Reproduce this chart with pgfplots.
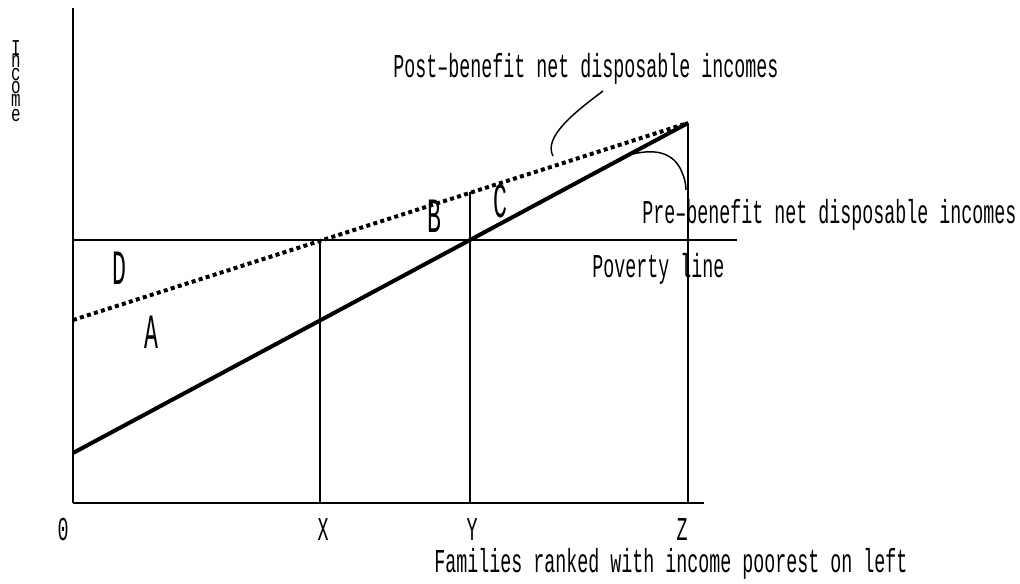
\documentclass[border=0pt]{standalone}
\usepackage{fontspec}
\setmainfont{Liberation Mono}[FakeStretch=0.55]
\newfontfamily\bigfont{Liberation Mono}[FakeStretch=0.47]
\newfontfamily\ylfont{Liberation Mono}[FakeStretch=0.7]
\usepackage{pgfplots}
\pgfplotsset{compat=1.18}
\newcommand\tf{\fontsize{25}{26}\selectfont}
\newcommand\lf{\bigfont\fontsize{37}{38}\selectfont}
\newcommand\yf{\ylfont\fontsize{17}{18}\selectfont}
\begin{document}
\begin{tikzpicture}
\begin{axis}[x=0.75pt, y=0.75pt, xmin=0, xmax=1020, ymin=0, ymax=583,
  y dir=reverse, hide axis, clip=false, scale only axis]
\coordinate (bl) at (axis cs:0,583);
\coordinate (tr) at (axis cs:1020,0);
% axes
\addplot[line width=1.3pt, black] coordinates {(73,8) (73,503)};
\addplot[line width=1.3pt, black] coordinates {(73,503) (704,503)};
% poverty line
\addplot[line width=1.3pt, black] coordinates {(73,240) (737,240)};
% verticals
\addplot[line width=1.3pt, black] coordinates {(320,503) (320,240)};
\addplot[line width=1.3pt, black] coordinates {(470,503) (470,192)};
\addplot[line width=1.3pt, black] coordinates {(688,503) (688,123)};
% pre-benefit
\addplot[line width=3pt, black] coordinates {(73,453) (688,123)};
% post-benefit
\addplot[line width=3pt, black, dash pattern=on 3pt off 2.5pt] coordinates {(73,320) (688,123)};
% leaders
\draw[line width=1.1pt] (axis cs:603,91) .. controls (axis cs:575,112) and (axis cs:543,137) .. (axis cs:553,156);
\draw[line width=1.1pt] (axis cs:622,157) .. controls (axis cs:650,148) and (axis cs:670,150) .. (axis cs:680,168) .. controls (axis cs:684,176) and (axis cs:686,183) .. (axis cs:686,190);
% texts
\node[anchor=base west, inner sep=0, font=\tf] at (axis cs:393,77) {Post–benefit net disposable incomes};
\node[anchor=base west, inner sep=0, font=\tf] at (axis cs:642,223) {Pre–benefit net disposable incomes};
\node[anchor=base west, inner sep=0, font=\tf] at (axis cs:592,277) {Poverty line};
\node[anchor=base, inner sep=0, font=\tf] at (axis cs:671,572) {Families ranked with income poorest on left};
\node[anchor=base west, inner sep=0, font=\lf] at (axis cs:112,284) {D};
\node[anchor=base west, inner sep=0, font=\lf] at (axis cs:144,348) {A};
\node[anchor=base west, inner sep=0, font=\lf] at (axis cs:427,232) {B};
\node[anchor=base west, inner sep=0, font=\lf] at (axis cs:493,217) {C};
% tick labels
\node[anchor=base, inner sep=0, font=\tf] at (axis cs:63,540) {0};
\node[anchor=base, inner sep=0, font=\tf] at (axis cs:323,540) {X};
\node[anchor=base, inner sep=0, font=\tf] at (axis cs:472,540) {Y};
\node[anchor=base, inner sep=0, font=\tf] at (axis cs:682,540) {Z};
% y label stacked
\node[anchor=base, inner sep=0, font=\yf] at (axis cs:16,55) {I};
\node[anchor=base, inner sep=0, font=\yf] at (axis cs:16,67) {n};
\node[anchor=base, inner sep=0, font=\yf] at (axis cs:16,80) {c};
\node[anchor=base, inner sep=0, font=\yf] at (axis cs:16,93) {o};
\node[anchor=base, inner sep=0, font=\yf] at (axis cs:16,106) {m};
\node[anchor=base, inner sep=0, font=\yf] at (axis cs:16,121) {e};
\end{axis}
\pgfresetboundingbox
\path (bl) rectangle (tr);
\end{tikzpicture}
\end{document}
